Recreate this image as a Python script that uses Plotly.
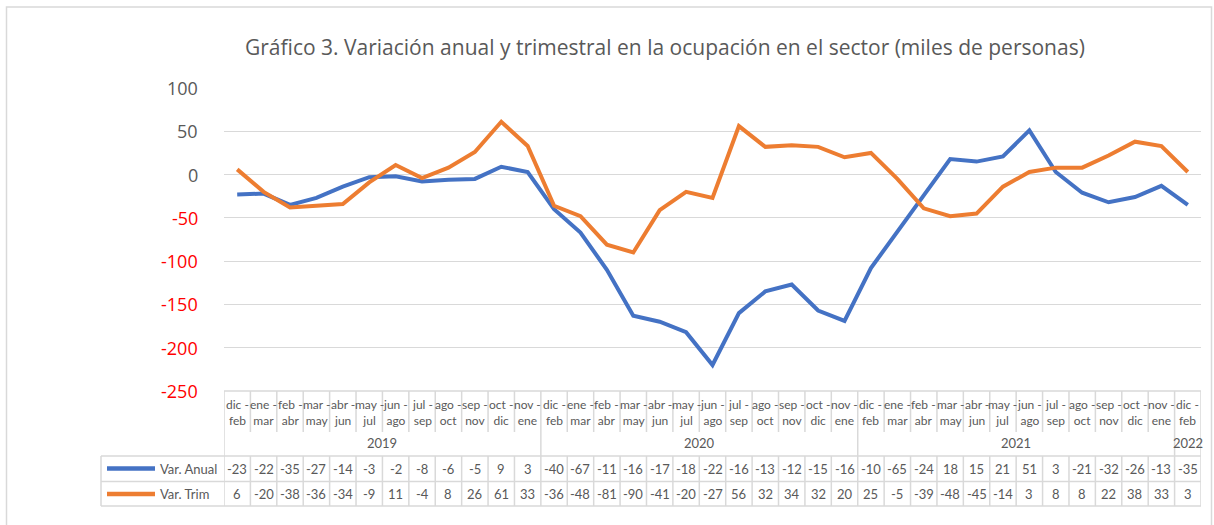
import plotly.graph_objects as go

# ---------------- data ----------------
periods = ["dic -<br>feb", "ene -<br>mar", "feb -<br>abr", "mar -<br>may", "abr -<br>jun", "may -<br>jul",
           "jun -<br>ago", "jul -<br>sep", "ago -<br>oct", "sep -<br>nov", "oct -<br>dic", "nov -<br>ene"]
years = ["2019", "2020", "2021", "2022"]
year_counts = [12, 12, 12, 1]
categories = [periods[i % 12] for i in range(37)]

var_anual = [-23, -22, -35, -27, -14, -3, -2, -8, -6, -5, 9, 3,
             -40, -67, -110, -163, -170, -182, -220, -160, -135, -127, -157, -169,
             -108, -65, -24, 18, 15, 21, 51, 3, -21, -32, -26, -13,
             -35]
var_trim = [6, -20, -38, -36, -34, -9, 11, -4, 8, 26, 61, 33,
            -36, -48, -81, -90, -41, -20, -27, 56, 32, 34, 32, 20,
            25, -5, -39, -48, -45, -14, 3, 8, 8, 22, 38, 33,
            3]
series_names = ["Var. Anual", "Var. Trim"]
series_colors = ["#4472C4", "#ED7D31"]
y_ticks = [100, 50, 0, -50, -100, -150, -200, -250]
title = "Gráfico 3. Variación anual y trimestral en la ocupación en el sector (miles de personas)"

# ---------------- geometry ----------------
W, H = 1214, 525
L, R, T, B = 224, 1201, 88, 391
PW, PH = R - L, B - T
n = len(categories)
FONT = "Lato"
TFONT = "Open Sans"
GRID = "#D9D9D9"
TXT = "#595959"


def px(x):
    return (x - L) / PW


def py(y):
    return (B - y) / PH


x_idx = list(range(n))
fig = go.Figure()
for name, vals, col in zip(series_names, [var_anual, var_trim], series_colors):
    fig.add_trace(go.Scatter(x=x_idx, y=vals, mode="lines", name=name,
                             line=dict(color=col, width=4), showlegend=False,
                             hoverinfo="x+y+name"))

shapes = []
annotations = []

# outer frame
shapes.append(dict(type="rect", xref="paper", yref="paper", x0=px(6.5), x1=px(1211.5),
                   y0=py(530), y1=py(7), line=dict(color=GRID, width=1.5), layer="below"))

# y tick labels
for v in y_ticks:
    annotations.append(dict(xref="paper", yref="y", x=px(200), y=v, text=str(v),
                            showarrow=False, xanchor="right", yanchor="middle",
                            font=dict(family=TFONT, size=18, color=TXT if v >= 0 else "#FF0000")))

# title
annotations.append(dict(xref="paper", yref="paper", x=px(665), y=py(47), text=title,
                        showarrow=False, xanchor="center", yanchor="middle",
                        font=dict(family=TFONT, size=21, color=TXT)))

line_style = dict(color=GRID, width=1.5)
year_bounds = [0]
for c in year_counts:
    year_bounds.append(year_bounds[-1] + c)

# vertical column lines
for k in range(n + 1):
    xk = k - 0.5
    if k in year_bounds:
        shapes.append(dict(type="line", xref="x", yref="paper", x0=xk, x1=xk,
                           y0=py(391), y1=py(506), line=line_style))
    else:
        shapes.append(dict(type="line", xref="x", yref="paper", x0=xk, x1=xk,
                           y0=py(391), y1=py(432), line=line_style))
        shapes.append(dict(type="line", xref="x", yref="paper", x0=xk, x1=xk,
                           y0=py(456), y1=py(506), line=line_style))

# horizontal lines
shapes.append(dict(type="line", xref="x", yref="paper", x0=-0.5, x1=n - 0.5,
                   y0=py(391), y1=py(391), line=line_style))
for yl in [456, 481.5, 506]:
    shapes.append(dict(type="line", xref="paper", yref="paper", x0=px(101), x1=1,
                       y0=py(yl), y1=py(yl), line=line_style))
shapes.append(dict(type="line", xref="paper", yref="paper", x0=px(101), x1=px(101),
                   y0=py(456), y1=py(506), line=line_style))

# category labels
for i, c in enumerate(categories):
    annotations.append(dict(xref="x", yref="paper", x=i, y=py(412), text=c,
                            showarrow=False, xanchor="center", yanchor="middle",
                            font=dict(family=FONT, size=12, color=TXT)))

# year labels
for yr, a, b in zip(years, year_bounds[:-1], year_bounds[1:]):
    annotations.append(dict(xref="x", yref="paper", x=(a + b - 1) / 2, y=py(443), text=yr,
                            showarrow=False, xanchor="center", yanchor="middle",
                            font=dict(family=FONT, size=13, color=TXT)))

# legend rows + values
row_y = [468.5, 494]
for name, vals, col, ry in zip(series_names, [var_anual, var_trim], series_colors, row_y):
    shapes.append(dict(type="line", xref="paper", yref="paper", x0=px(107), x1=px(155),
                       y0=py(ry), y1=py(ry), line=dict(color=col, width=4.5)))
    annotations.append(dict(xref="paper", yref="paper", x=px(158), y=py(ry), text=name,
                            showarrow=False, xanchor="left", yanchor="middle",
                            font=dict(family=FONT, size=13, color=TXT)))
    for i, v in enumerate(vals):
        annotations.append(dict(xref="x", yref="paper", x=i, y=py(ry), text=str(v)[:3],
                                showarrow=False, xanchor="center", yanchor="middle",
                                font=dict(family=FONT, size=13, color=TXT)))

fig.update_layout(
    width=W, height=H, autosize=False,
    margin=dict(l=L, r=W - R, t=T, b=H - B, pad=0),
    paper_bgcolor="white", plot_bgcolor="white",
    xaxis=dict(range=[-0.5, n - 0.5], showticklabels=False, showgrid=False,
               zeroline=False, showline=False, ticks="", fixedrange=True),
    yaxis=dict(range=[-250, 100], tickvals=y_ticks, showticklabels=False,
               showgrid=True, gridcolor=GRID, gridwidth=1, zeroline=False,
               showline=False, ticks="", fixedrange=True),
    shapes=shapes, annotations=annotations, showlegend=False,
)

fig.write_html("out.html", config={"displayModeBar": False},
               post_script="document.body.style.margin='0';")
